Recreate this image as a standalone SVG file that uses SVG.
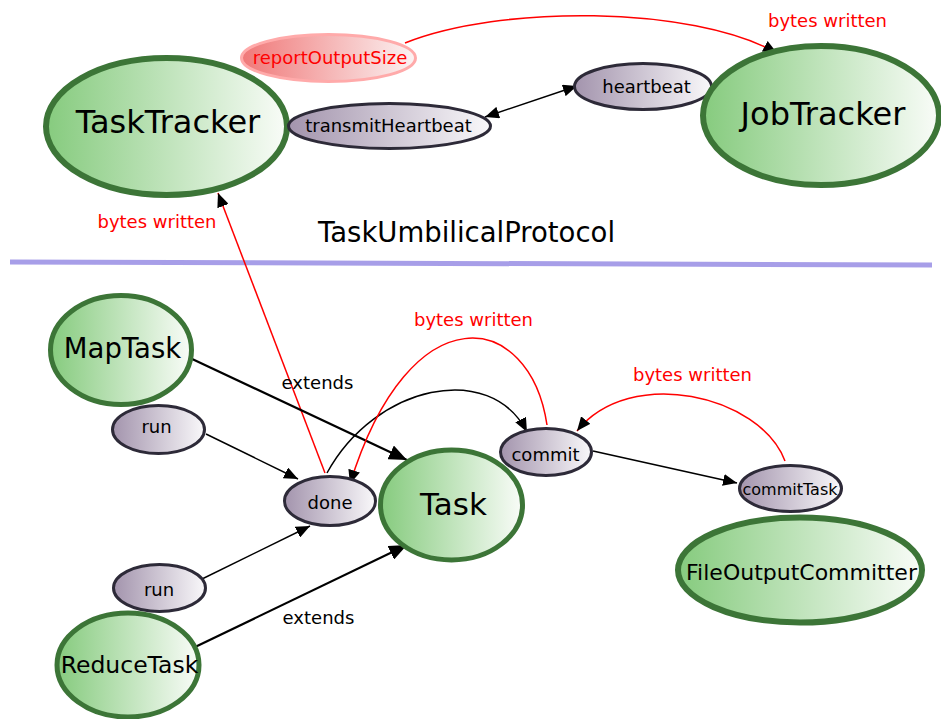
<svg xmlns="http://www.w3.org/2000/svg" width="941" height="719" viewBox="0 0 941 719">
<style>
text{font-family:"DejaVu Sans","Liberation Sans",sans-serif;text-anchor:middle;fill:#000}
.big{fill:url(#gGreen);stroke:#3c7537;stroke-width:6}
.mid{fill:url(#gGreen);stroke:#3c7537;stroke-width:5}
.op{fill:url(#gPurple);stroke:#2d2a38;stroke-width:3}
.red{fill:none;stroke:#ff0000;stroke-width:1.5}
.blk{fill:none;stroke:#000;stroke-width:1.5}
.thk{fill:none;stroke:#000;stroke-width:2.2}
.lbl{font-size:18px}
.rl{font-size:18px;fill:#ff0000}
</style>
<defs>
<linearGradient id="gGreen" x1="0" y1="0" x2="1" y2="0">
<stop offset="0" stop-color="#86cb7e"/>
<stop offset="1" stop-color="#f9fcf8"/>
</linearGradient>
<linearGradient id="gPurple" x1="0" y1="0" x2="1" y2="0">
<stop offset="0" stop-color="#a394ad"/>
<stop offset="1" stop-color="#f9f8fa"/>
</linearGradient>
<linearGradient id="gRed" x1="0" y1="0" x2="1" y2="0">
<stop offset="0" stop-color="#f07878"/>
<stop offset="1" stop-color="#fbf3f3"/>
</linearGradient>
<marker id="ah" markerUnits="userSpaceOnUse" markerWidth="14" markerHeight="12" refX="14" refY="6" orient="auto-start-reverse">
<path d="M0,0 L14,6 L0,12 z" fill="#000"/>
</marker>
<marker id="ahL" markerUnits="userSpaceOnUse" markerWidth="18" markerHeight="15" refX="18" refY="7.5" orient="auto">
<path d="M0,0 L18,7.5 L0,15 z" fill="#000"/>
</marker>
</defs>

<line x1="10" y1="262" x2="932" y2="265" stroke="#9d93e6" stroke-width="5" stroke-opacity="0.9"/>
<text x="466.5" y="242" style="font-size:27.5px">TaskUmbilicalProtocol</text>

<g id="connectors">
<path class="red" d="M405,43 C500,5 690,5 777,53" marker-end="url(#ah)"/>
<line class="blk" x1="485" y1="117" x2="577" y2="86" marker-start="url(#ah)" marker-end="url(#ah)"/>
<line class="red" x1="325" y1="473" x2="218" y2="193" marker-end="url(#ah)"/>
<line class="thk" x1="190" y1="358" x2="407" y2="460" marker-end="url(#ahL)"/>
<line class="thk" x1="193" y1="648" x2="407" y2="545" marker-end="url(#ahL)"/>
<line class="blk" x1="206" y1="434" x2="298" y2="479" marker-end="url(#ah)"/>
<line class="blk" x1="200" y1="580" x2="310" y2="526" marker-end="url(#ah)"/>
<path class="blk" d="M327,473 C375,385 490,360 527,432" marker-end="url(#ah)"/>
<path class="red" d="M547,425 C530,310 410,290 350,484" marker-end="url(#ah)"/>
<line class="blk" x1="593" y1="451" x2="737" y2="483" marker-end="url(#ah)"/>
<path class="red" d="M785,461 C760,395 630,365 577,431" marker-end="url(#ah)"/>
<text class="rl" x="827.5" y="27">bytes written</text>
<text class="rl" x="157" y="228">bytes written</text>
<text class="rl" x="473.5" y="326">bytes written</text>
<text class="rl" x="692.5" y="381">bytes written</text>
<text class="lbl" x="317.5" y="389">extends</text>
<text class="lbl" x="318.5" y="624">extends</text>
</g>

<g id="reportOutputSize">
<ellipse cx="328.5" cy="58" rx="87" ry="23.5" fill="url(#gRed)" stroke="#ffaaaa" stroke-width="3"/>
<text class="rl" x="330" y="64">reportOutputSize</text>
</g>
<g id="TaskTracker">
<ellipse class="big" cx="166.5" cy="126.5" rx="120.5" ry="68.5"/>
<text x="168" y="133" style="font-size:32px">TaskTracker</text>
</g>
<g id="transmitHeartbeat">
<ellipse class="op" cx="389.5" cy="126" rx="101" ry="22.5"/>
<text class="lbl" x="388.5" y="132">transmitHeartbeat</text>
</g>
<g id="heartbeat">
<ellipse class="op" cx="643" cy="86.5" rx="68.5" ry="23"/>
<text class="lbl" x="646.5" y="93">heartbeat</text>
</g>
<g id="JobTracker">
<ellipse class="big" cx="821" cy="115.5" rx="118" ry="69.5"/>
<text x="823" y="125" style="font-size:32px">JobTracker</text>
</g>
<g id="MapTask">
<ellipse class="mid" cx="121" cy="350" rx="70.5" ry="54.5"/>
<text x="122.5" y="358" style="font-size:27.5px">MapTask</text>
</g>
<g id="run1">
<ellipse class="op" cx="158.5" cy="429.5" rx="46" ry="24"/>
<text class="lbl" x="156.5" y="433">run</text>
</g>
<g id="done">
<ellipse class="op" cx="330" cy="501" rx="45.5" ry="24.5"/>
<text class="lbl" x="330" y="509">done</text>
</g>
<g id="Task">
<ellipse class="mid" cx="451.5" cy="505" rx="71" ry="55"/>
<text x="453.5" y="515" style="font-size:31px">Task</text>
</g>
<g id="commit">
<ellipse class="op" cx="546" cy="452" rx="45.5" ry="23.5"/>
<text class="lbl" x="545.5" y="461">commit</text>
</g>
<g id="commitTask">
<ellipse class="op" cx="790.5" cy="488.5" rx="51" ry="23"/>
<text x="790" y="495" style="font-size:16px">commitTask</text>
</g>
<g id="FileOutputCommitter">
<ellipse class="big" cx="800" cy="570" rx="122" ry="52.5"/>
<text x="801.5" y="580" style="font-size:22px">FileOutputCommitter</text>
</g>
<g id="run2">
<ellipse class="op" cx="159.5" cy="588" rx="46" ry="23.5"/>
<text class="lbl" x="159" y="596">run</text>
</g>
<g id="ReduceTask">
<ellipse class="mid" cx="128" cy="665" rx="71" ry="52"/>
<text x="129.5" y="673" style="font-size:23.5px">ReduceTask</text>
</g>
</svg>
